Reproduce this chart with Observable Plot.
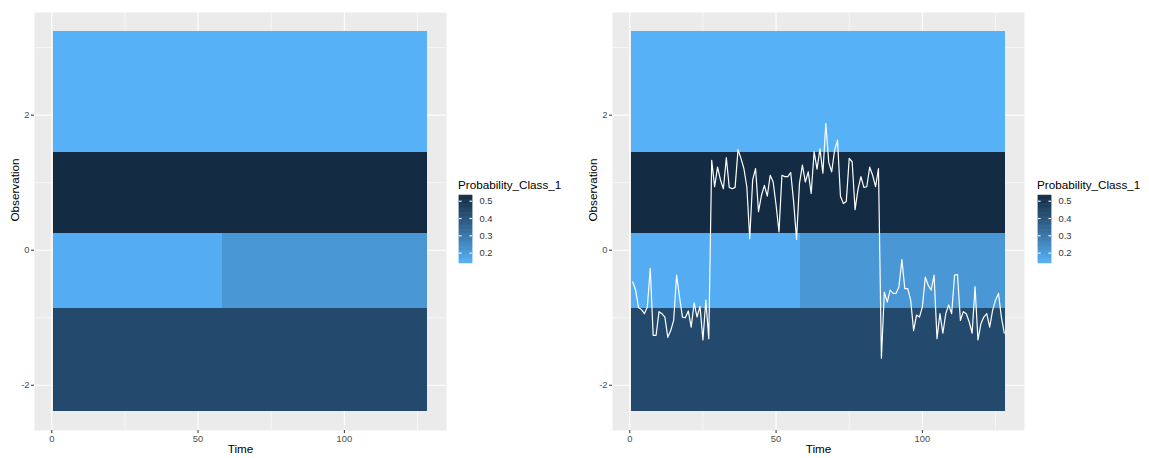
<!DOCTYPE html>
<html><head><meta charset="utf-8">
<script src="https://cdn.jsdelivr.net/npm/d3@7"></script>
<script src="https://cdn.jsdelivr.net/npm/@observablehq/plot@0.6"></script>
<style>
html,body{margin:0;padding:0;background:#fff;}
#root{position:relative;width:1149px;height:458px;overflow:hidden;font-family:"Liberation Sans",Arial,sans-serif;background:#fff;}
.abs{position:absolute;}
.ltitle{font-size:11.7px;line-height:14px;color:#000;white-space:nowrap;}
</style></head><body><div id="root"></div>
<script>
// ---- data ----
const observation = [
-0.47,-0.59,-0.85,-0.88,-0.94,-0.84,-0.27,-1.26,-1.26,-0.91,
-0.94,-0.99,-1.29,-1.19,-1.04,-0.37,-0.69,-0.99,-1.00,-0.90,
-1.14,-0.78,-0.99,-0.83,-1.33,-0.74,-1.31,
1.33,0.94,1.23,1.04,0.91,1.37,0.93,0.91,0.93,1.49,
1.36,1.21,0.94,0.17,1.04,1.21,0.57,0.81,0.96,0.80,
1.11,1.01,0.67,0.27,1.11,1.09,1.09,1.15,0.72,0.16,
0.99,1.26,1.01,1.16,0.84,1.46,1.20,1.50,1.14,1.88,
1.30,1.16,1.48,1.63,0.80,0.69,0.72,1.36,1.31,0.60,
0.90,1.09,0.93,0.94,1.23,1.11,0.94,1.21,
-1.60,-0.62,-0.77,-0.59,-0.64,-0.64,-0.54,-0.14,-0.57,-0.57,
-0.74,-1.19,-0.96,-0.99,-0.84,-0.40,-0.52,-0.59,-0.37,-1.31,
-0.94,-1.23,-0.94,-0.81,-0.94,-0.37,-0.36,-1.04,-0.91,-0.94,
-1.06,-1.23,-0.54,-1.33,-1.09,-0.99,-0.94,-1.14,-0.89,-0.74,
-0.64,-0.99,-1.23
];
// observation bands (lower / upper edges)
const bandLow  = [1.44, 0.25, -0.86, -2.39];
const bandHigh = [3.24, 1.44, 0.25, -0.86];
// time segments
const segStart = [0.5, 58.5];
const segEnd   = [58.5, 128.5];
// Probability_Class_1 per band, for each time segment
const probSeg1 = [0.140, 0.532, 0.150, 0.433];
const probSeg2 = [0.140, 0.532, 0.208, 0.433];
const probDomain = [0.14, 0.533];
const legendTicks = [0.2, 0.3, 0.4, 0.5];
const xMajor = [0, 50, 100], xMinor = [25, 75, 125];
const yMajor = [-2, 0, 2], yMinor = [-1, 1, 3];
const xDomain = [-5.9, 134.9], yDomain = [-2.67, 3.52];

// ---- derived tables ----
const series = observation.map((v, i) => ({t: i + 1, obs: v}));
const tiles = [];
bandLow.forEach((lo, b) => {
  const hi = bandHigh[b];
  if (probSeg1[b] === probSeg2[b]) {
    tiles.push({t1: segStart[0], t2: segEnd[1], lo, hi, p: probSeg1[b]});
  } else {
    tiles.push({t1: segStart[0], t2: segEnd[0], lo, hi, p: probSeg1[b]});
    tiles.push({t1: segStart[1], t2: segEnd[1], lo, hi, p: probSeg2[b]});
  }
});

const colorScale = {type: "linear", domain: probDomain, range: ["#56B1F7", "#132B43"], interpolate: "lab"};
const font = '"Liberation Sans", Arial, sans-serif';
const intFmt = d => String(d);

function panel(withLine) {
  return Plot.plot({
    width: 450, height: 458,
    marginLeft: 34, marginRight: 4, marginTop: 12, marginBottom: 28,
    style: {fontFamily: font, fontSize: "9.4px", color: "#4D4D4D", background: "transparent", overflow: "visible"},
    x: {domain: xDomain, label: null, axis: null},
    y: {domain: yDomain, label: null, axis: null},
    color: colorScale,
    marks: [
      Plot.frame({fill: "#EBEBEB", stroke: null}),
      Plot.gridX(xMinor, {stroke: "white", strokeOpacity: 1, strokeWidth: 0.55}),
      Plot.gridY(yMinor, {stroke: "white", strokeOpacity: 1, strokeWidth: 0.55}),
      Plot.gridX(xMajor, {stroke: "white", strokeOpacity: 1, strokeWidth: 1.1}),
      Plot.gridY(yMajor, {stroke: "white", strokeOpacity: 1, strokeWidth: 1.1}),
      Plot.rect(tiles, {x1: "t1", x2: "t2", y1: "lo", y2: "hi", fill: "p", shapeRendering: "crispEdges"}),
      withLine ? Plot.line(series, {x: "t", y: "obs", stroke: "white", strokeWidth: 1.2}) : null,
      Plot.axisX(xMajor, {tickSize: 3, tickPadding: 2, stroke: "#333", fill: "#4D4D4D", label: null, tickFormat: intFmt}),
      Plot.axisY(yMajor, {tickSize: 3, tickPadding: 2, stroke: "#333", fill: "#4D4D4D", label: null, tickFormat: intFmt}),
      Plot.text(["Time"], {frameAnchor: "bottom", dy: 22.5, fontSize: 11.7, fill: "#000"}),
      Plot.text(["Observation"], {frameAnchor: "left", dx: -19, rotate: -90, fontSize: 11.7, fill: "#000"})
    ]
  });
}

function legend() {
  const n = 120;
  const step = (probDomain[1] - probDomain[0]) / n;
  const slices = d3.range(n).map(i => ({a: probDomain[0] + i * step, b: probDomain[0] + (i + 1) * step}));
  slices.forEach(s => s.m = (s.a + s.b) / 2);
  return Plot.plot({
    width: 70, height: 83,
    marginLeft: 9, marginRight: 48, marginTop: 5, marginBottom: 10,
    style: {fontFamily: font, fontSize: "9.4px", color: "#333", background: "transparent", overflow: "visible"},
    x: {domain: [0, 1], axis: null},
    y: {domain: probDomain, axis: null},
    color: colorScale,
    marks: [
      Plot.rect(slices, {x1: 0, x2: 1, y1: "a", y2: "b", fill: "m", stroke: "m", strokeWidth: 0.5}),
      Plot.ruleY(legendTicks, {x1: 0, x2: 0.2, stroke: "white", strokeWidth: 1.1}),
      Plot.ruleY(legendTicks, {x1: 0.8, x2: 1, stroke: "white", strokeWidth: 1.1}),
      Plot.axisY(legendTicks, {anchor: "right", tickSize: 0, tickPadding: 7, fill: "#333", label: null, tickFormat: d3.format(".1f")})
    ]
  });
}

const root = document.getElementById("root");
function place(node, left, top) {
  node.classList.add("abs");
  node.style.left = left + "px";
  node.style.top = top + "px";
  root.appendChild(node);
}
function title(left, top) {
  const d = document.createElement("div");
  d.className = "ltitle";
  d.textContent = "Probability_Class_1";
  place(d, left, top);
}
place(panel(false), 0, 0);
title(458, 178);
place(legend(), 450, 190);
place(panel(true), 578, 0);
title(1037, 178);
place(legend(), 1029, 190);
</script></body></html>
